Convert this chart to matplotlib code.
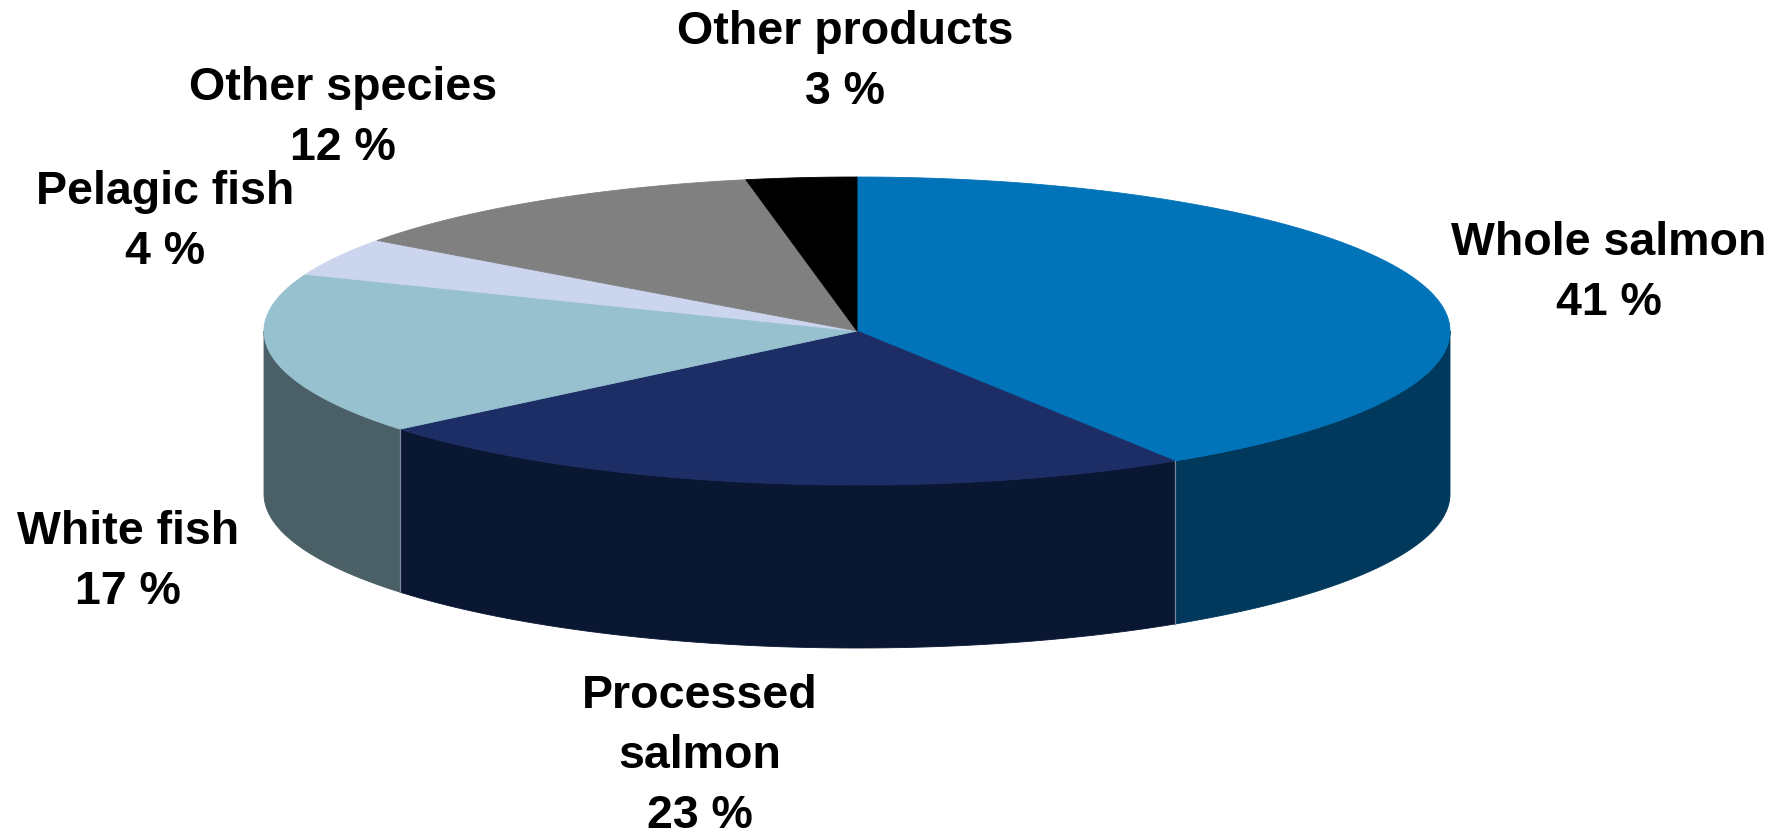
import numpy as np
import matplotlib.pyplot as plt
from matplotlib.patches import Polygon

# export share by product group, percent
categories = ["Whole salmon", "Processed\nsalmon", "White fish",
              "Pelagic fish", "Other species", "Other products"]
shares = [41, 23, 17, 4, 12, 3]
top_colors = ["#0073B9", "#1D2D66", "#97C1CF", "#CBD5EE", "#808080", "#000000"]
side_colors = ["#00395C", "#0A1733", "#4A6066", "#66708A", "#404040", "#000000"]

# label centres in pixel space
label_pos = [(1609, 273), (700, 756), (128, 562),
             (165, 222), (343, 118), (845, 62)]

W, H = 1789, 835
cx, cy = 857, 331       # centre of the top face
rx, ry = 593, 154       # radii of the top ellipse
depth = 163             # height of the cylinder wall

fig = plt.figure(figsize=(W / 100, H / 100), dpi=100)
ax = fig.add_axes([0, 0, 1, 1])
ax.set_xlim(0, W)
ax.set_ylim(H, 0)
ax.axis("off")


def ellipse_pts(a0, a1, n=200, dy=0.0):
    t = np.radians(np.linspace(a0, a1, n))
    return np.column_stack([cx + rx * np.cos(t), cy - ry * np.sin(t) + dy])


# slice angles, clockwise from 12 o'clock
fracs = np.array(shares, dtype=float) / sum(shares)
ends = 90 - 360 * np.cumsum(fracs)
starts = np.concatenate([[90], ends[:-1]])

# front wall: only the part of each slice lying in the lower half is visible
for a_end, a_start, col in zip(ends, starts, side_colors):
    for k in (-1, 0, 1):
        lo = max(a_end, -180 + 360 * k)
        hi = min(a_start, 360 * k)
        if hi <= lo:
            continue
        upper = ellipse_pts(lo, hi)
        lower = ellipse_pts(hi, lo, dy=depth)
        ax.add_patch(Polygon(np.vstack([upper, lower]), closed=True,
                             facecolor=col, edgecolor=col, lw=0.6))
        # seam at slice boundaries on the wall
        for a in (lo, hi):
            if a in (a_end, a_start) and -179 < a - 360 * k < -1:
                x0, y0 = ellipse_pts(a, a, n=1)[0]
                ax.plot([x0, x0], [y0, y0 + depth], color="#7A8796", lw=0.8)

# top face
for a_end, a_start, col in zip(ends, starts, top_colors):
    arc = ellipse_pts(a_start, a_end)
    pts = np.vstack([[cx, cy], arc])
    ax.add_patch(Polygon(pts, closed=True, facecolor=col, edgecolor=col, lw=0.6))

for name, pct, (lx, ly) in zip(categories, shares, label_pos):
    ax.text(lx, ly, f"{name}\n{pct} %", ha="center", va="center",
            multialignment="center", fontsize=33.5, fontweight="bold",
            family="Liberation Sans", linespacing=1.46)

fig.savefig("out.png", dpi=100)
